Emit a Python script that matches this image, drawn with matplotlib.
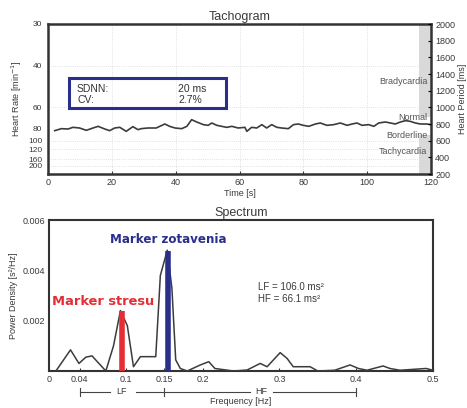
import matplotlib
matplotlib.use("Agg")
import matplotlib.pyplot as plt
import matplotlib.transforms as mtransforms
from matplotlib.patches import Rectangle

plt.rcParams['font.family'] = ['Liberation Sans', 'DejaVu Sans']

# ---------------- Tachogram data ----------------
time_s = [2.1, 4.2, 6.3, 7.8, 9.9, 12.0, 14.1, 15.7, 17.8, 19.3, 20.9, 22.5, 24.5, 26.6,
          28.2, 29.2, 31.3, 33.9, 36.6, 38.1, 39.8, 41.9, 43.5, 45.0, 46.6, 48.7, 50.2,
          51.3, 52.9, 54.4, 56.0, 57.6, 59.6, 61.7, 62.3, 63.8, 65.4, 67.0, 68.5, 70.1,
          71.7, 73.2, 75.3, 76.9, 78.4, 80.0, 81.7, 83.8, 85.3, 87.4, 89.5, 91.6, 93.7,
          95.3, 96.8, 98.4, 100.5, 102.1, 103.6, 105.7, 107.3, 108.8, 110.4, 112.0,
          113.5, 115.1, 116.7, 118.8, 119.8]
period_ms = [720, 744, 740, 760, 752, 724, 752, 772, 740, 720, 752, 760, 712, 768,
             732, 744, 752, 752, 800, 772, 752, 744, 772, 852, 824, 792, 784,
             812, 784, 772, 760, 772, 752, 760, 712, 760, 752, 792, 752, 792,
             760, 752, 744, 792, 800, 784, 772, 800, 812, 784, 792, 812, 784,
             800, 812, 784, 792, 772, 812, 824, 812, 800, 824, 840,
             832, 812, 800, 800, 792]

hr_ticks = [30, 40, 60, 80, 100, 120, 160, 200]
period_ticks = [2000, 1800, 1600, 1400, 1200, 1000, 800, 600, 400, 200]
time_ticks = [0, 20, 40, 60, 80, 100, 120]
zone_labels = ["Bradycardia", "Normal", "Borderline", "Tachycardia"]
zone_label_periods = [1304, 872, 668, 464]
sdnn_text = ["SDNN:", "20 ms"]
cv_text = ["CV:", "2.7%"]

# ---------------- Spectrum data ----------------
freq_hz = [0.009, 0.028, 0.039, 0.048, 0.056, 0.074, 0.084, 0.093, 0.102, 0.110, 0.119,
           0.139, 0.145, 0.154, 0.160, 0.165, 0.171, 0.180, 0.197, 0.208, 0.216, 0.240,
           0.258, 0.275, 0.284, 0.301, 0.310, 0.318, 0.340, 0.350, 0.372, 0.392, 0.403,
           0.414, 0.435, 0.444, 0.457, 0.491, 0.500]
psd = [0.0, 0.00084, 0.0003, 0.00055, 0.0006, 0.0, 0.001, 0.0024, 0.0018, 0.00017,
       0.00057, 0.00057, 0.0038, 0.0048, 0.0033, 0.00044, 0.0001, 0.0, 0.00024, 0.00037,
       0.0001, 0.0, 0.00004, 0.0003, 0.00017, 0.00073, 0.0005, 0.00017, 0.00017, 0.0,
       0.00003, 0.00024, 0.0001, 0.00003, 0.0002, 0.0001, 0.00003, 0.0001, 0.00003]
freq_ticks = [0, 0.04, 0.1, 0.15, 0.2, 0.3, 0.4, 0.5]
freq_tick_labels = ["0", "0.04", "0.1", "0.15", "0.2", "0.3", "0.4", "0.5"]
psd_ticks = [0.002, 0.004, 0.006]
marker_stress = (0.095, 0.00237)
marker_recovery = (0.155, 0.00477)
lf_hf_text = ["LF = 106.0 ms²", "HF = 66.1 ms²"]

TXT = '#3a3a3a'
NAVY = '#2b2f8c'
RED = '#e52d35'

fig = plt.figure(figsize=(4.67, 4.08), dpi=100)

# ================= Tachogram =================
ax = fig.add_axes([48/467, 1-174/408, 383/467, 150/408])
ax.set_xlim(0, 120)
ax.set_ylim(200, 2000)
# grid
for t in [20, 40, 60, 80, 100]:
    ax.axvline(t, color='#d8d8d8', lw=0.6, ls=':', zorder=0)
for hr in [40, 60, 100, 120, 160, 200]:
    ax.axhline(60000/hr, color='#d8d8d8', lw=0.6, ls=':', zorder=0)
# zone band
ax.add_patch(Rectangle((116.2, 890), 4, 1200, facecolor='#d9d9d9', edgecolor='none', zorder=1))
ax.add_patch(Rectangle((116.2, 150), 4, 520, facecolor='#d9d9d9', edgecolor='none', zorder=1))

ax.plot(time_s, period_ms, color='#3c3c3c', lw=1.2, zorder=3)

ax.set_yticks([60000/h for h in hr_ticks])
ax.set_yticklabels([str(h) for h in hr_ticks])
ax.set_xticks(time_ticks)
ax.tick_params(axis='both', labelsize=6.5, colors='#333333', labelcolor=TXT,
               direction='in', length=2.5, width=0.8, pad=3)
ax.tick_params(axis='y', length=0, pad=4, labelsize=6)
for s in ax.spines.values():
    s.set_linewidth(1.8)
    s.set_color('#333333')
ax.set_xlabel("Time [s]", fontsize=6.5, color=TXT, labelpad=1)
ax.set_ylabel("Heart Rate [min$^{-1}$]", fontsize=6.5, color=TXT, labelpad=3)
ax.set_title("Tachogram", fontsize=9, color=TXT, pad=3)

ax2 = ax.twinx()
ax2.set_ylim(200, 2000)
ax2.set_yticks(period_ticks)
ax2.tick_params(axis='y', labelsize=6.5, labelcolor=TXT, direction='in', length=2.5, width=0.8, pad=3)
ax2.set_ylabel("Heart Period [ms]", fontsize=6.5, color=TXT, labelpad=2)
for s in ax2.spines.values():
    s.set_visible(False)

for lab, p in zip(zone_labels, zone_label_periods):
    ax.text(118.8, p, lab, ha='right', va='center', fontsize=6.5, color='#555555', zorder=4)

ax.add_patch(Rectangle((6.6, 992), 49.2, 360, facecolor='none', edgecolor=NAVY,
                       lw=2.2, zorder=5))
ax.text(9.1, 1220, sdnn_text[0], fontsize=7.5, color='#333333', va='center', zorder=6)
ax.text(40.8, 1220, sdnn_text[1], fontsize=7.5, color='#333333', va='center', zorder=6)
ax.text(9.1, 1088, cv_text[0], fontsize=7.5, color='#333333', va='center', zorder=6)
ax.text(40.8, 1088, cv_text[1], fontsize=7.5, color='#333333', va='center', zorder=6)

# ================= Spectrum =================
bx = fig.add_axes([49/467, 1-371/408, 384/467, 151/408])
bx.set_xlim(0, 0.5)
bx.set_ylim(0, 0.006)
bx.plot(freq_hz, psd, color='#3c3c3c', lw=1.1, zorder=3)
bx.plot([marker_stress[0]]*2, [0, marker_stress[1]], color=RED, lw=4, solid_capstyle='butt', zorder=4)
bx.plot([marker_recovery[0]]*2, [0, marker_recovery[1]], color=NAVY, lw=4, solid_capstyle='butt', zorder=4)

bx.set_xticks(freq_ticks)
bx.set_xticklabels(freq_tick_labels)
bx.set_yticks(psd_ticks)
bx.set_yticklabels(["0.002", "0.004", "0.006"])
bx.tick_params(axis='both', labelsize=6.5, colors='#333333', labelcolor=TXT,
               direction='in', length=2.5, width=0.8, pad=3)
bx.tick_params(axis='y', length=0)
for s in bx.spines.values():
    s.set_linewidth(1.5)
    s.set_color('#333333')
bx.set_ylabel("Power Density [s²/Hz]", fontsize=6.5, color=TXT, labelpad=3)
bx.set_title("Spectrum", fontsize=9, color=TXT, pad=3)

bx.text(0.080, 0.00524, "Marker zotavenia", fontsize=8.6, fontweight='bold', color=NAVY,
        ha='left', va='center', family=['DejaVu Sans'])
bx.text(0.004, 0.00276, "Marker stresu", fontsize=9.4, fontweight='bold', color=RED,
        ha='left', va='center', family=['DejaVu Sans'])
bx.text(0.272, 0.00333, lf_hf_text[0], fontsize=7, color=TXT, va='center')
bx.text(0.272, 0.00285, lf_hf_text[1], fontsize=7, color=TXT, va='center')

# LF / HF bracket below axis
trans = mtransforms.blended_transform_factory(bx.transData, bx.transAxes)
yb = -0.139
seg_kw = dict(color='#444444', lw=0.8, transform=trans, clip_on=False)
for x0, x1 in [(0.04, 0.080), (0.113, 0.262), (0.292, 0.4)]:
    bx.plot([x0, x1], [yb, yb], **seg_kw)
for xt in [0.04, 0.15, 0.4]:
    bx.plot([xt, xt], [yb-0.025, yb+0.025], **seg_kw)
bx.text(0.095, yb, "LF", transform=trans, ha='center', va='center', fontsize=6.5, color=TXT)
bx.text(0.277, yb, "HF", transform=trans, ha='center', va='center', fontsize=6.5, color=TXT)
bx.text(0.25, -0.2, "Frequency [Hz]", transform=trans, ha='center', va='center', fontsize=6.5, color=TXT)

fig.savefig("out.png", dpi=100, facecolor='white')
